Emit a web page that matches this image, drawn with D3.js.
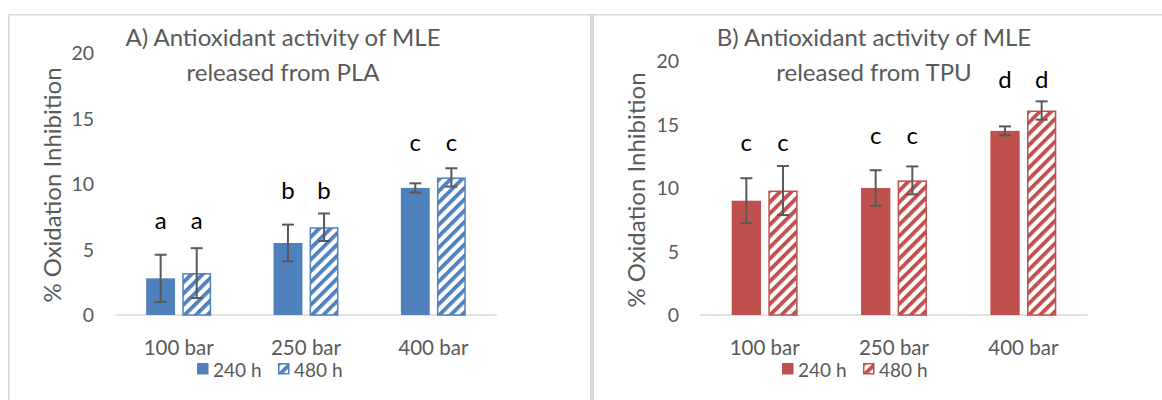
<!DOCTYPE html>
<html>
<head>
<meta charset="utf-8">
<script src="https://cdn.jsdelivr.net/npm/d3@7"></script>
<style>
  html, body { margin: 0; padding: 0; background: #fff; }
  svg { display: block; font-family: Lato, "Open Sans", sans-serif; }
</style>
</head>
<body>
<svg id="chart" width="1162" height="400"></svg>
<script>
// ---- data ----
const categories = ["100 bar", "250 bar", "400 bar"];
const seriesNames = ["240 h", "480 h"];
const yTicks = [0, 5, 10, 15, 20];

const plaTitle = ["A) Antioxidant activity of MLE", "released from PLA"];
const pla240 = [2.8, 5.5, 9.7];
const pla480 = [3.2, 6.7, 10.5];
const plaErr240 = [1.8, 1.4, 0.35];
const plaErr480 = [1.9, 1.05, 0.7];
const plaLetters = ["a", "b", "c"];
const plaLetterY = [6.6, 8.85, 12.5];

const tpuTitle = ["B) Antioxidant activity of MLE", "released from TPU"];
const tpu240 = [9.0, 10.0, 14.5];
const tpu480 = [9.8, 10.6, 16.1];
const tpuErr240 = [1.77, 1.4, 0.35];
const tpuErr480 = [1.93, 1.1, 0.72];
const tpuLetters = ["c", "c", "d"];
const tpuLetterY = [12.9, 13.5, 17.9];

const svg = d3.select("#chart");
const defs = svg.append("defs");

// 넓은 사선 패턴 (wide upward diagonal)
function makeHatch(id, color) {
  const p = defs.append("pattern")
    .attr("id", id)
    .attr("patternUnits", "userSpaceOnUse")
    .attr("width", 8).attr("height", 8)
    .attr("patternTransform", "rotate(45)");
  p.append("rect").attr("width", 8).attr("height", 8).attr("fill", "#fff");
  p.append("rect").attr("x", 0).attr("width", 3.8).attr("height", 8).attr("fill", color);
}
makeHatch("hatchBlue", "#4F81BD");
makeHatch("hatchRed", "#C0504D");

// ---- frame lines ----
const frame = svg.append("g").attr("stroke", "#d9d9d9").attr("fill", "none");
frame.append("line").attr("x1", 8).attr("x2", 1162).attr("y1", 14.8).attr("y2", 14.8).attr("stroke-width", 1.6);
frame.append("line").attr("x1", 8.8).attr("x2", 8.8).attr("y1", 14).attr("y2", 400).attr("stroke-width", 1.6);
frame.append("line").attr("x1", 592).attr("x2", 592).attr("y1", 14).attr("y2", 400).attr("stroke-width", 4);

function drawPanel(cfg) {
  const g = svg.append("g");
  const y = d3.scaleLinear().domain([0, 20]).range([cfg.bottom, cfg.top]);
  const x0 = d3.scaleBand().domain(categories).range([cfg.left, cfg.right])
    .paddingInner(0.49).paddingOuter(0.245);
  const x1 = d3.scaleBand().domain(seriesNames).range([0, x0.bandwidth()]).paddingInner(0.2);

  // 제목
  const title = g.append("text")
    .attr("text-anchor", "middle")
    .attr("fill", "#595959")
    .attr("font-size", 24);
  cfg.title.forEach((t, i) => {
    title.append("tspan").attr("x", cfg.titleX).attr("y", 45.5 + i * 35.5).text(t);
  });

  // y축 눈금 라벨
  g.append("g").selectAll("text")
    .data(yTicks)
    .join("text")
    .attr("x", cfg.left - 21)
    .attr("y", d => y(d))
    .attr("dy", "0.36em")
    .attr("text-anchor", "end")
    .attr("fill", "#595959")
    .attr("font-size", 19.5)
    .text(d => d);

  // y축 제목
  g.append("text")
    .attr("transform", `translate(${cfg.yTitleX},${cfg.yTitleY}) rotate(-90)`)
    .attr("text-anchor", "middle")
    .attr("fill", "#595959")
    .attr("font-size", 24)
    .text("% Oxidation Inhibition");

  // 기준선
  g.append("line")
    .attr("x1", cfg.left).attr("x2", cfg.right)
    .attr("y1", y(0)).attr("y2", y(0))
    .attr("stroke", "#d9d9d9").attr("stroke-width", 1.5);

  const rows = categories.map((c, i) => ({
    cat: c,
    bars: [
      { s: seriesNames[0], v: cfg.v240[i], e: cfg.e240[i] },
      { s: seriesNames[1], v: cfg.v480[i], e: cfg.e480[i] }
    ],
    letter: cfg.letters[i],
    ly: cfg.letterY[i]
  }));

  const grp = g.append("g").selectAll("g")
    .data(rows)
    .join("g")
    .attr("transform", d => `translate(${x0(d.cat)},0)`);

  grp.selectAll("rect")
    .data(d => d.bars)
    .join("rect")
    .attr("x", d => x1(d.s) + (d.s === seriesNames[1] ? 0.75 : 0))
    .attr("y", d => y(d.v) + (d.s === seriesNames[1] ? 0.75 : 0))
    .attr("width", d => x1.bandwidth() - (d.s === seriesNames[1] ? 1.5 : 0))
    .attr("height", d => y(0) - y(d.v) - (d.s === seriesNames[1] ? 0.75 : 0))
    .attr("fill", d => d.s === seriesNames[0] ? cfg.color : `url(#${cfg.hatch})`)
    .attr("stroke", d => d.s === seriesNames[1] ? cfg.color : "none")
    .attr("stroke-width", 1.5);

  // 오차 막대
  const eb = grp.selectAll("g.err")
    .data(d => d.bars)
    .join("g")
    .attr("class", "err")
    .attr("stroke", "#595959")
    .attr("stroke-width", 2);
  eb.append("line")
    .attr("x1", d => x1(d.s) + x1.bandwidth() / 2)
    .attr("x2", d => x1(d.s) + x1.bandwidth() / 2)
    .attr("y1", d => y(d.v + d.e)).attr("y2", d => y(d.v - d.e));
  eb.selectAll("line.cap")
    .data(d => [d.v + d.e, d.v - d.e].map(v => ({ s: d.s, v })))
    .join("line")
    .attr("class", "cap")
    .attr("x1", d => x1(d.s) + x1.bandwidth() / 2 - 6)
    .attr("x2", d => x1(d.s) + x1.bandwidth() / 2 + 6)
    .attr("y1", d => y(d.v)).attr("y2", d => y(d.v));

  // 유의성 문자
  grp.selectAll("text.sig")
    .data(d => d.bars.map(b => ({ s: b.s, letter: d.letter, ly: d.ly })))
    .join("text")
    .attr("class", "sig")
    .attr("x", d => x1(d.s) + x1.bandwidth() / 2)
    .attr("y", d => y(d.ly))
    .attr("text-anchor", "middle")
    .attr("fill", "#000")
    .attr("font-size", 24)
    .text(d => d.letter);

  // 카테고리 라벨
  g.append("g").selectAll("text")
    .data(categories)
    .join("text")
    .attr("x", d => x0(d) + x0.bandwidth() / 2)
    .attr("y", 355)
    .attr("text-anchor", "middle")
    .attr("fill", "#595959")
    .attr("font-size", 20.5)
    .text(d => d);

  // 범례
  const lg = g.append("g").attr("transform", `translate(${cfg.left + 82},0)`);
  const items = lg.selectAll("g")
    .data(seriesNames)
    .join("g")
    .attr("transform", (d, i) => `translate(${i * 81},0)`);
  items.append("rect")
    .attr("x", (d, i) => i ? 0.75 : 0)
    .attr("y", (d, i) => 363 + (i ? 0.75 : 0))
    .attr("width", (d, i) => 11.5 - (i ? 1.5 : 0))
    .attr("height", (d, i) => 11.5 - (i ? 1.5 : 0))
    .attr("fill", (d, i) => i ? `url(#${cfg.hatch})` : cfg.color)
    .attr("stroke", (d, i) => i ? cfg.color : "none")
    .attr("stroke-width", 1.5);
  items.append("text")
    .attr("x", 16)
    .attr("y", 377)
    .attr("fill", "#595959")
    .attr("font-size", 19)
    .text(d => d);
}

drawPanel({
  left: 115, right: 497, top: 53, bottom: 315,
  title: plaTitle, titleX: 283,
  yTitleX: 60.5, yTitleY: 185,
  v240: pla240, v480: pla480, e240: plaErr240, e480: plaErr480,
  letters: plaLetters, letterY: plaLetterY,
  color: "#4F81BD", hatch: "hatchBlue"
});

drawPanel({
  left: 700, right: 1088, top: 61, bottom: 315,
  title: tpuTitle, titleX: 874,
  yTitleX: 645, yTitleY: 190,
  v240: tpu240, v480: tpu480, e240: tpuErr240, e480: tpuErr480,
  letters: tpuLetters, letterY: tpuLetterY,
  color: "#C0504D", hatch: "hatchRed"
});
</script>
</body>
</html>
